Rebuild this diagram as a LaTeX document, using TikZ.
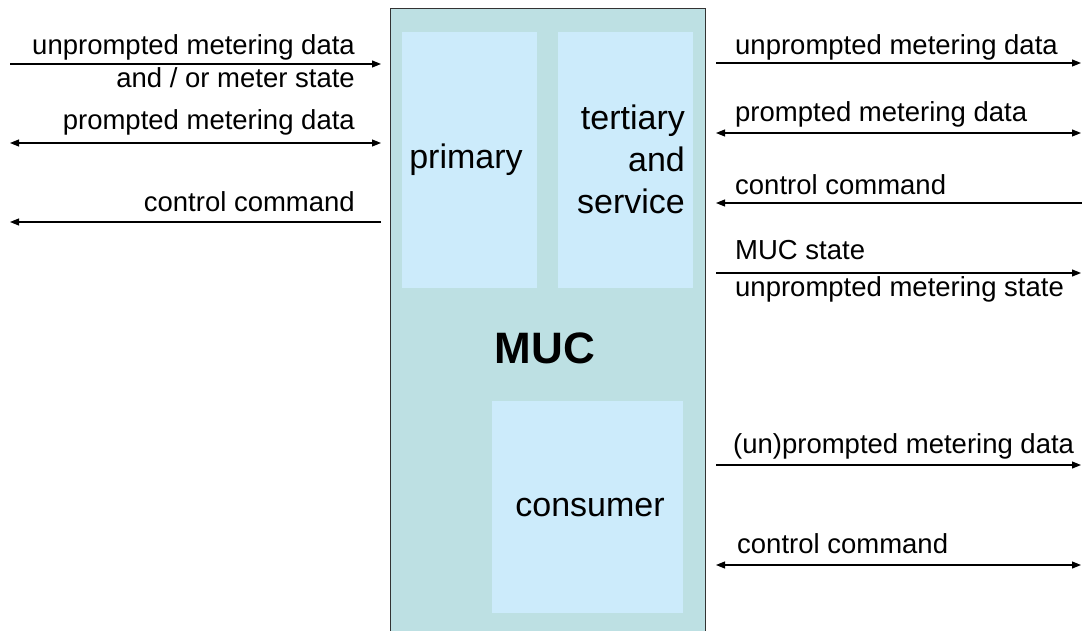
\documentclass[tikz,border=0pt]{standalone}
\usepackage{fontspec}
\setmainfont{Liberation Sans}
\usetikzlibrary{arrows.meta}
\definecolor{mucfill}{HTML}{BDE0E3}
\definecolor{subfill}{HTML}{CCEBFB}
\definecolor{edge}{HTML}{333333}
\begin{document}
\begin{tikzpicture}[x=1pt,y=-1pt,
  flow/.style={line width=1.1pt,-{Triangle[length=9pt,width=7pt]}},
  flowboth/.style={line width=1.1pt,{Triangle[length=9pt,width=7pt]}-{Triangle[length=9pt,width=7pt]}},
  lbl/.style={inner sep=0pt,font=\fontsize{27.5}{33}\selectfont},
  sub/.style={fill=subfill,draw=none,inner sep=0pt,anchor=north west},
  subtext/.style={inner sep=0pt,font=\fontsize{34}{42}\selectfont}]
\useasboundingbox (0,0) rectangle (1082,631);
\fill[white] (0,0) rectangle (1082,631);
% main box
\node[draw=edge,line width=1pt,fill=mucfill,anchor=north west,inner sep=0pt,
  minimum width=315pt,minimum height=640pt] (muc) at (390,8) {};
\node[sub,minimum width=135pt,minimum height=256pt] (prim) at (402,32) {};
\node[sub,minimum width=135pt,minimum height=256pt] (tert) at (558,32) {};
\node[sub,minimum width=191pt,minimum height=212pt] (cons) at (492,401) {};
\node[subtext] (primt) at (466,160) {primary};
\node[subtext,align=right] (tertt) at (631,159) {tertiary\\and\hspace{14pt}\\service};
\node[subtext] (const) at (590,508) {consumer};
\node[inner sep=0pt,font=\fontsize{44}{50}\selectfont\bfseries] (muct) at (545,348) {MUC};
% left coordinates
\coordinate (l1a) at (10,64);  \coordinate (l1b) at (381,64);
\coordinate (l2a) at (10,143); \coordinate (l2b) at (381,143);
\coordinate (l3a) at (10,222); \coordinate (l3b) at (381,222);
\draw[flow] (l1a) -- (l1b);
\draw[flowboth] (l2a) -- (l2b);
\draw[flow] (l3b) -- (l3a);
\node[lbl,anchor=base east] (t1) at (355,55) {unprompted metering data};
\node[lbl,anchor=base east] (t1b) at (355,88) {and / or meter state};
\node[lbl,anchor=base east] (t2) at (355,130) {prompted metering data};
\node[lbl,anchor=base east] (t3) at (355,212) {control command};
% right coordinates
\coordinate (r1a) at (716,63);  \coordinate (r1b) at (1081,63);
\coordinate (r2a) at (716,133); \coordinate (r2b) at (1081,133);
\coordinate (r3a) at (716,203); \coordinate (r3b) at (1082,203);
\coordinate (r4a) at (716,273); \coordinate (r4b) at (1081,273);
\coordinate (r5a) at (716,465); \coordinate (r5b) at (1081,465);
\coordinate (r6a) at (716,565); \coordinate (r6b) at (1081,565);
\draw[flow] (r1a) -- (r1b);
\draw[flowboth] (r2a) -- (r2b);
\draw[flow] (r3b) -- (r3a);
\draw[flow] (r4a) -- (r4b);
\draw[flow] (r5a) -- (r5b);
\draw[flowboth] (r6a) -- (r6b);
\node[lbl,anchor=base west] (s1) at (735,55) {unprompted metering data};
\node[lbl,anchor=base west] (s2) at (735,122) {prompted metering data};
\node[lbl,anchor=base west] (s3) at (735,195) {control command};
\node[lbl,anchor=base west] (s4) at (735,260) {MUC state};
\node[lbl,anchor=base west] (s4b) at (735,297) {unprompted metering state};
\node[lbl,anchor=base west] (s5) at (733,453) {(un)prompted metering data};
\node[lbl,anchor=base west] (s6) at (737,553) {control command};
\end{tikzpicture}
\end{document}
